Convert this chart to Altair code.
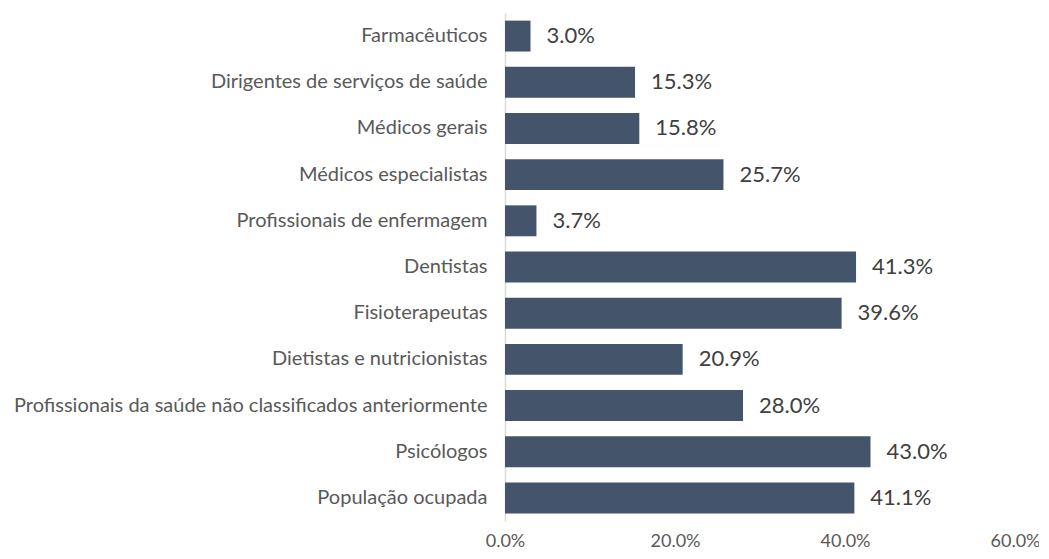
import altair as alt
import pandas as pd

categories = [
    "Farmacêuticos",
    "Dirigentes de serviços de saúde",
    "Médicos gerais",
    "Médicos especialistas",
    "Profissionais de enfermagem",
    "Dentistas",
    "Fisioterapeutas",
    "Dietistas e nutricionistas",
    "Profissionais da saúde não classificados anteriormente",
    "Psicólogos",
    "População ocupada",
]
values = [0.030, 0.153, 0.158, 0.257, 0.037, 0.413, 0.396, 0.209, 0.280, 0.430, 0.411]
x_ticks = [0.0, 0.2, 0.4, 0.6]

df = pd.DataFrame({"cat": categories, "val": values})

FONT = "Lato"
y_enc = alt.Y(
    "cat:N",
    sort=categories,
    title=None,
    scale=alt.Scale(paddingInner=0.33, paddingOuter=0.165),
    axis=alt.Axis(
        domain=True, domainColor="#D9D9D9", domainWidth=1.5,
        ticks=False, labelPadding=18, labelFontSize=20, labelColor="#595959",
        labelFont=FONT, labelLimit=600,
    ),
)
x_enc = alt.X(
    "val:Q",
    title=None,
    scale=alt.Scale(domain=[0, 0.6], nice=False),
    axis=alt.Axis(
        values=x_ticks, format=".1%", grid=False, domain=False, ticks=False,
        labelPadding=11, labelFontSize=18, labelColor="#595959", labelFont=FONT,
        labelFlush=False,
    ),
)

bars = alt.Chart(df).mark_bar(color="#44546A").encode(x=x_enc, y=y_enc)
labels = alt.Chart(df).mark_text(
    align="left", baseline="middle", dx=16, fontSize=22, color="#404040", font=FONT
).encode(x="val:Q", y=alt.Y("cat:N", sort=categories), text=alt.Text("val:Q", format=".1%"))

chart = (bars + labels).properties(
    width=510, height=508,
    autosize=alt.AutoSizeParams(type="none"),
    padding={"left": 497, "top": 5, "right": 24, "bottom": 30},
).configure_view(stroke=None)

chart.save("out.html", embed_options={"renderer": "svg", "actions": False})
